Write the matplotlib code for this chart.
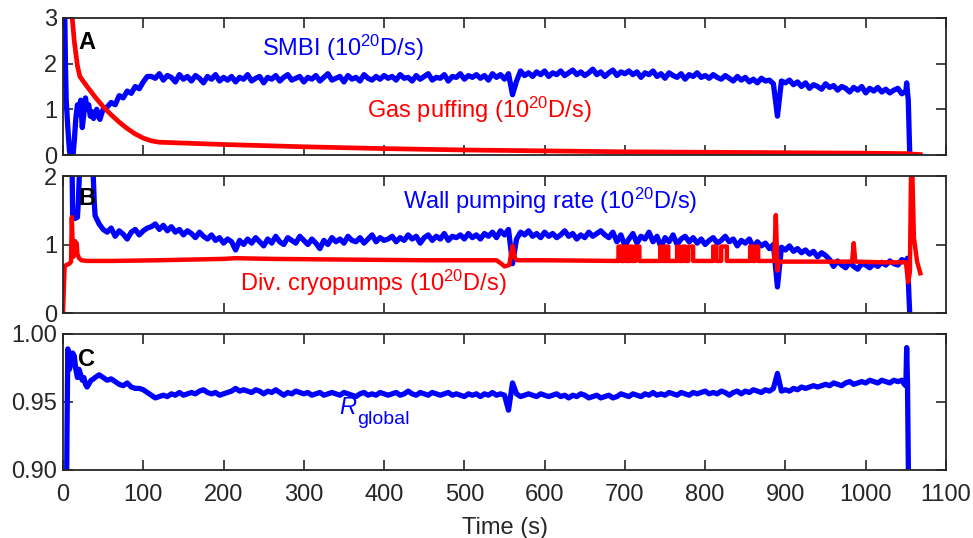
import numpy as np
import matplotlib
matplotlib.use("Agg")
import matplotlib.pyplot as plt

plt.rcParams["font.family"] = ["Liberation Sans", "DejaVu Sans"]
plt.rcParams["mathtext.fontset"] = "custom"
plt.rcParams["mathtext.rm"] = "Liberation Sans"
plt.rcParams["mathtext.it"] = "Liberation Sans:italic"
plt.rcParams["mathtext.bf"] = "Liberation Sans:bold"

# ---- SMBI fuelling rate (1e20 D/s) ----
smbi_t_start = [0, 1, 2, 3, 4, 6, 8, 10, 12, 14, 16, 18, 20, 22, 24, 26, 28, 30, 32, 34,
                36, 38, 40, 42, 44, 46, 48, 50, 55, 60, 65, 70, 75, 80, 85, 90, 95, 100, 105]
smbi_start = [1.6, 3.3, 3.4, 2.0, 1.2, 0.6, 0.1, -0.1, -0.1, 0.3, 0.8, 1.1, 0.9, 1.2, 0.6, 0.9,
              1.25, 1.0, 1.1, 0.85, 0.95, 0.8, 0.9, 1.0, 0.85, 0.78, 0.9, 1.0, 1.05, 1.15, 1.1,
              1.3, 1.25, 1.4, 1.35, 1.5, 1.45, 1.6, 1.72]
smbi_body = [
    1.72, 1.68, 1.78, 1.64, 1.74, 1.70, 1.60, 1.76, 1.66, 1.72, 1.62, 1.74, 1.68, 1.58, 1.72, 1.66, 1.76, 1.62, 1.70, 1.64,
    1.72, 1.60, 1.70, 1.66, 1.76, 1.62, 1.68, 1.72, 1.58, 1.70, 1.66, 1.74, 1.62, 1.70, 1.76, 1.64, 1.68, 1.72, 1.60, 1.70,
    1.66, 1.74, 1.62, 1.70, 1.78, 1.64, 1.68, 1.72, 1.60, 1.74, 1.66, 1.70, 1.62, 1.76, 1.68, 1.64, 1.72, 1.66, 1.74, 1.68,
    1.72, 1.64, 1.76, 1.68, 1.70, 1.62, 1.74, 1.66, 1.72, 1.78, 1.64, 1.70, 1.68, 1.76, 1.62, 1.72, 1.70, 1.78, 1.66, 1.74,
    1.70, 1.76, 1.68, 1.74, 1.64, 1.78, 1.70, 1.76, 1.66, 1.78, 1.32, 1.62, 1.84, 1.74, 1.80, 1.72, 1.82, 1.76, 1.84, 1.72,
    1.80, 1.76, 1.84, 1.74, 1.80, 1.86, 1.76, 1.82, 1.74, 1.80, 1.88, 1.76, 1.82, 1.72, 1.80, 1.86, 1.74, 1.82, 1.78, 1.84,
    1.76, 1.82, 1.70, 1.80, 1.76, 1.84, 1.72, 1.78, 1.68, 1.80, 1.74, 1.70, 1.78, 1.66, 1.76, 1.72, 1.80, 1.70, 1.74, 1.68,
    1.76, 1.70, 1.66, 1.74, 1.68, 1.62, 1.72, 1.64, 1.70, 1.60, 1.66, 1.58, 1.68, 1.62, 1.64, 1.56, 0.85, 1.62, 1.58, 1.64,
    1.54, 1.60, 1.50, 1.58, 1.46, 1.54, 1.50, 1.44, 1.56, 1.48, 1.52, 1.42, 1.50, 1.46, 1.38, 1.48, 1.42, 1.50, 1.36, 1.46,
    1.40, 1.48, 1.38, 1.44, 1.36, 1.42, 1.46, 1.34, 1.40,
]
smbi_t_end = [1051, 1053, 1055]
smbi_end = [1.58, 1.2, -0.1]

# ---- gas puffing (1e20 D/s) ----
puff_t = [0, 10, 14, 18, 21, 25, 30, 40, 50, 60, 70, 80, 90, 100, 110, 120,
          200, 300, 400, 500, 600, 700, 800, 900, 1000, 1050, 1058, 1068]
puff = [3.6, 3.3, 2.5, 1.95, 1.72, 1.62, 1.5, 1.27, 1.06, 0.88, 0.72, 0.58, 0.46, 0.37, 0.31, 0.28,
        0.23, 0.18, 0.14, 0.11, 0.09, 0.07, 0.06, 0.05, 0.04, 0.03, 0.02, 0.01]

# ---- wall pumping rate (1e20 D/s) ----
wall_t_start = [0, 11, 12, 15, 18, 19, 22, 36, 39, 40, 45, 50, 55, 60, 65, 70, 75, 80, 85, 90, 95, 100, 105]
wall_start = [3.0, 2.5, 1.42, 1.38, 1.40, 1.6, 2.5, 2.5, 1.6, 1.42, 1.30, 1.22, 1.18, 1.24, 1.12, 1.20,
              1.15, 1.08, 1.18, 1.22, 1.14, 1.20, 1.24]
wall_body = [
    1.26, 1.30, 1.22, 1.28, 1.20, 1.26, 1.18, 1.22, 1.14, 1.20, 1.16, 1.10, 1.18, 1.12, 1.08, 1.14, 1.06, 1.10, 1.02, 1.08,
    1.04, 0.92, 1.06, 1.00, 1.08, 1.02, 1.10, 1.04, 0.98, 1.08, 1.02, 1.12, 1.04, 1.00, 1.10, 1.06, 1.02, 1.12, 1.06, 1.00,
    1.08, 1.02, 0.94, 1.06, 1.00, 1.10, 1.04, 1.08, 1.02, 1.12, 1.06, 1.04, 1.10, 1.02, 1.08, 1.14, 1.04, 1.10, 1.06, 1.08,
    1.12, 1.04, 1.10, 1.06, 1.14, 1.08, 1.12, 1.02, 1.10, 1.14, 1.06, 1.12, 1.08, 1.16, 1.06, 1.12, 1.10, 1.14, 1.08, 1.16,
    1.10, 1.14, 1.08, 1.16, 1.12, 1.18, 1.10, 1.20, 1.14, 1.22, 0.72, 1.08, 1.18, 1.14, 1.20, 1.12, 1.16, 1.10, 1.18, 1.12,
    1.16, 1.10, 1.14, 1.20, 1.12, 1.16, 1.08, 1.14, 1.10, 1.18, 1.12, 1.16, 1.20, 1.14, 1.10, 1.18, 1.04, 1.14, 0.98, 1.08,
    1.16, 1.02, 1.12, 1.08, 1.18, 1.04, 1.12, 0.96, 1.10, 1.04, 1.14, 1.00, 1.08, 1.12, 1.04, 1.10, 1.02, 1.08, 1.00, 1.06,
    1.10, 1.02, 1.06, 1.12, 1.04, 1.08, 0.98, 1.06, 1.02, 1.08, 0.96, 1.04, 0.98, 1.02, 0.94, 1.00, 0.38, 0.96, 0.92, 0.98,
    0.90, 0.94, 0.88, 0.92, 0.86, 0.90, 0.82, 0.88, 0.84, 0.78, 0.68, 0.76, 0.70, 0.66, 0.74, 0.68, 0.64, 0.72, 0.70, 0.66,
    0.72, 0.68, 0.74, 0.70, 0.76, 0.72, 0.70, 0.78, 0.74,
]
wall_t_end = [1052, 1054, 1056]
wall_end = [0.8, 0.2, -0.3]

# ---- divertor cryopump exhaust (1e20 D/s) ----
cryo_t = [0, 2, 4, 8, 10, 11, 12, 13, 14, 15, 16, 17, 18, 20, 23, 30, 60, 120, 200, 215, 260, 350, 450,
          540, 546, 550, 556, 558, 560, 563, 566, 600, 690,
          692, 692, 695, 695, 699, 699, 702, 702, 706, 706, 709, 709, 713, 713, 718, 718,
          744, 744, 747, 747, 751, 751, 754, 754,
          765, 765, 768, 768, 772, 772, 775, 775, 779, 779, 785, 785,
          810, 810, 814, 814, 820, 820, 827, 827,
          856, 856, 859, 859, 862, 862, 866, 866,
          886, 888, 890, 892, 895, 950, 983, 985, 987, 1020, 1050, 1053, 1055, 1057, 1060, 1064, 1068]
cryo = [0.0, 0.68, 0.70, 0.72, 0.75, 1.40, 1.00, 0.82, 0.95, 1.05, 0.92, 1.02, 0.86, 0.80, 0.77, 0.76,
        0.76, 0.77, 0.79, 0.80, 0.79, 0.78, 0.77,
        0.77, 0.72, 0.68, 0.70, 0.85, 0.98, 0.80, 0.77, 0.77, 0.76,
        0.76, 0.97, 0.97, 0.76, 0.76, 0.97, 0.97, 0.76, 0.76, 0.97, 0.97, 0.76, 0.76, 0.97, 0.97, 0.76,
        0.76, 0.97, 0.97, 0.76, 0.76, 0.97, 0.97, 0.76,
        0.76, 0.97, 0.97, 0.76, 0.76, 0.97, 0.97, 0.76, 0.76, 0.97, 0.97, 0.76,
        0.76, 0.97, 0.97, 0.76, 0.76, 0.97, 0.97, 0.76,
        0.76, 0.97, 0.97, 0.76, 0.76, 0.97, 0.97, 0.76,
        0.76, 1.43, 0.62, 0.75, 0.75, 0.75, 0.75, 1.02, 0.75, 0.74, 0.74, 0.45, 0.6, 2.6, 1.1, 0.75, 0.58]

# ---- global recycling coefficient ----
rg_t_start = [0, 4, 5, 6, 8, 10, 12, 14, 16, 18, 20, 22, 24, 26, 28, 30, 32, 35, 38, 40, 45, 50, 55,
              60, 65, 70, 75, 80, 85, 90, 95, 100, 105]
rg_start = [0.85, 0.85, 0.93, 0.989, 0.974, 0.978, 0.986, 0.984, 0.974, 0.968, 0.974, 0.970, 0.966,
            0.968, 0.963, 0.961, 0.963, 0.966, 0.967, 0.968, 0.970, 0.968, 0.966, 0.967, 0.965, 0.963,
            0.962, 0.964, 0.961, 0.960, 0.960, 0.959, 0.957]
rg_body = [
    0.955, 0.953, 0.954, 0.955, 0.954, 0.956, 0.955, 0.957, 0.955, 0.956, 0.957, 0.956, 0.958, 0.959, 0.957, 0.956, 0.957, 0.955, 0.956, 0.957,
    0.958, 0.960, 0.958, 0.959, 0.958, 0.957, 0.959, 0.958, 0.956, 0.958, 0.957, 0.959, 0.957, 0.955, 0.957, 0.956, 0.958, 0.957, 0.956, 0.957,
    0.955, 0.956, 0.957, 0.955, 0.956, 0.957, 0.956, 0.955, 0.957, 0.956, 0.955, 0.954, 0.956, 0.957, 0.955, 0.956, 0.955, 0.957, 0.956, 0.955,
    0.956, 0.957, 0.955, 0.956, 0.958, 0.956, 0.955, 0.957, 0.956, 0.955, 0.957, 0.956, 0.955, 0.956, 0.957, 0.955, 0.956, 0.955, 0.954, 0.956,
    0.955, 0.956, 0.954, 0.956, 0.955, 0.957, 0.955, 0.956, 0.955, 0.944, 0.964, 0.956, 0.954, 0.955, 0.956, 0.955, 0.954, 0.956, 0.955, 0.954,
    0.955, 0.956, 0.954, 0.955, 0.953, 0.955, 0.954, 0.956, 0.955, 0.953, 0.954, 0.955, 0.953, 0.954, 0.955, 0.953, 0.954, 0.956, 0.955, 0.954,
    0.956, 0.955, 0.954, 0.956, 0.955, 0.957, 0.955, 0.956, 0.955, 0.957, 0.956, 0.955, 0.957, 0.956, 0.955, 0.957, 0.956, 0.957, 0.958, 0.956,
    0.957, 0.956, 0.958, 0.957, 0.955, 0.957, 0.958, 0.956, 0.958, 0.957, 0.959, 0.958, 0.957, 0.959, 0.958, 0.960, 0.971, 0.958, 0.959, 0.958,
    0.960, 0.959, 0.961, 0.960, 0.961, 0.962, 0.961, 0.962, 0.963, 0.962, 0.964, 0.963, 0.962, 0.964, 0.965, 0.963, 0.964, 0.965, 0.964, 0.966,
    0.965, 0.964, 0.966, 0.965, 0.964, 0.966, 0.965, 0.966,
]
rg_t_end = [1048, 1050, 1051, 1052, 1054]
rg_end = [0.963, 0.962, 0.990, 0.965, 0.85]

# 5 s sampling for the steady part of each trace
smbi_t = np.concatenate([smbi_t_start, np.arange(110, 110 + 5 * len(smbi_body), 5), smbi_t_end])
smbi_v = np.concatenate([smbi_start, smbi_body, smbi_end])
wall_t = np.concatenate([wall_t_start, np.arange(110, 110 + 5 * len(wall_body), 5), wall_t_end])
wall_v = np.concatenate([wall_start, wall_body, wall_end])
rg_t = np.concatenate([rg_t_start, np.arange(110, 110 + 5 * len(rg_body), 5), rg_t_end])
rg_v = np.concatenate([rg_start, rg_body, rg_end])

blue = "#0000ff"
red = "#ff0000"
frame = "#262626"
fs = 17

fig = plt.figure(figsize=(9.73, 5.38), dpi=100)
left, width = 63 / 973, 883 / 973
ax_a = fig.add_axes([left, 1 - 155 / 538, width, 137 / 538])
ax_b = fig.add_axes([left, 1 - 313 / 538, width, 137 / 538])
ax_c = fig.add_axes([left, 1 - 470 / 538, width, 136 / 538])

ax_a.plot(smbi_t, smbi_v, color=blue, lw=3.8, solid_joinstyle="round")
ax_a.plot(puff_t, puff, color=red, lw=3.4)
ax_a.set_ylim(0, 3)
ax_a.set_yticks([0, 1, 2, 3])
ax_a.set_xticks(np.arange(0, 1101, 100))

ax_b.plot(wall_t, wall_v, color=blue, lw=3.8, solid_joinstyle="round")
ax_b.plot(cryo_t, cryo, color=red, lw=3.2)
ax_b.set_ylim(0, 2)
ax_b.set_yticks([0, 1, 2])
ax_b.set_xticks(np.arange(0, 1101, 200))

ax_c.plot(rg_t, rg_v, color=blue, lw=3.8, solid_joinstyle="round")
ax_c.set_ylim(0.90, 1.00)
ax_c.set_yticks([0.90, 0.95, 1.00])
ax_c.set_yticklabels(["0.90", "0.95", "1.00"])
ax_c.set_xticks(np.arange(0, 1101, 100))
ax_c.set_xlabel("Time (s)", fontsize=fs, color=frame, labelpad=8)

for ax in (ax_a, ax_b, ax_c):
    ax.set_xlim(0, 1100)
    ax.tick_params(direction="in", top=True, right=True, length=7, width=1.2,
                   labelsize=fs, colors=frame)
    ax.tick_params(axis="y", pad=4)
    ax.tick_params(axis="x", pad=10)
    for sp in ax.spines.values():
        sp.set_color(frame)
        sp.set_linewidth(1.3)
for ax in (ax_a, ax_b):
    ax.tick_params(labelbottom=False)

# panel letters
for ax, letter, yv in ((ax_a, "A", 2.47), (ax_b, "B", 1.67), (ax_c, "C", 0.9816)):
    ax.text(19, yv, letter, fontsize=fs, fontweight="bold", color="black", ha="left", va="center")

ax_a.text(248, 2.34, r"SMBI (10$^{20}$D/s)", color=blue, fontsize=fs, ha="left", va="center")
ax_a.text(379, 0.98, r"Gas puffing (10$^{20}$D/s)", color=red, fontsize=fs, ha="left", va="center")
ax_b.text(424, 1.63, r"Wall pumping rate (10$^{20}$D/s)", color=blue, fontsize=fs, ha="left", va="center")
ax_b.text(220, 0.44, r"Div. cryopumps (10$^{20}$D/s)", color=red, fontsize=fs, ha="left", va="center")
# R_global, with a large, low subscript
ax_c.text(344, 0.9415, "R", color=blue, fontsize=fs, fontstyle="italic", ha="left", va="baseline")
ax_c.text(366, 0.9335, "global", color=blue, fontsize=14, ha="left", va="baseline")

fig.savefig("out.png", dpi=100)
